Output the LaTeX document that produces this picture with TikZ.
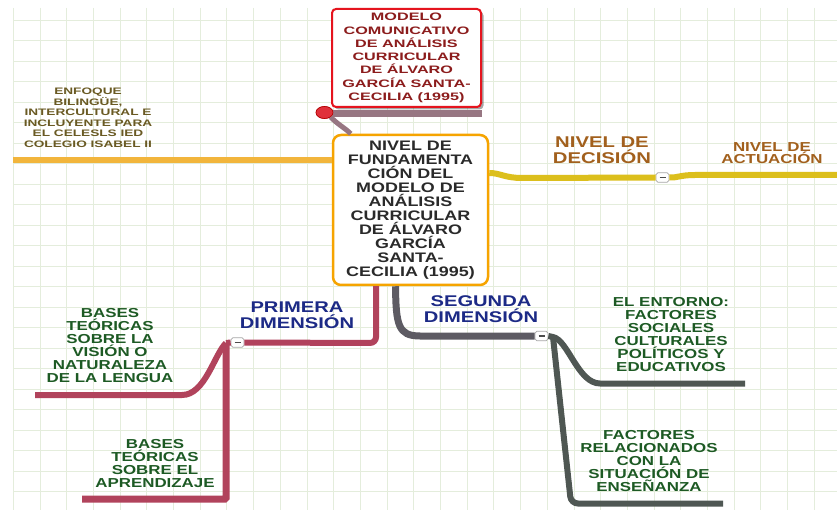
\documentclass[tikz,border=0pt]{standalone}
\usepackage{fontspec}
\setmainfont{Liberation Sans}
\newfontfamily\wideA[FakeStretch=1.3]{Liberation Sans}
\newfontfamily\wideB[FakeStretch=1.5]{Liberation Sans}
\newfontfamily\wideC[FakeStretch=1.45]{Liberation Sans}
\usetikzlibrary{shadows,shapes.geometric}

\definecolor{gridc}{HTML}{E4EDDC}
\definecolor{redB}{HTML}{E5141E}
\definecolor{redT}{HTML}{8C1C1C}
\definecolor{orangeB}{HTML}{F6A400}
\definecolor{coreT}{HTML}{2A2A2A}
\definecolor{orangeL}{HTML}{F2B53C}
\definecolor{oliveT}{HTML}{6A5A23}
\definecolor{yellowL}{HTML}{DCBF1C}
\definecolor{brownT}{HTML}{A2601D}
\definecolor{crimL}{HTML}{B1435C}
\definecolor{navyT}{HTML}{1C2A86}
\definecolor{grayL}{HTML}{5D5B63}
\definecolor{slateL}{HTML}{4F5753}
\definecolor{greenT}{HTML}{1D5A24}
\definecolor{mauveL}{HTML}{977682}
\definecolor{dotC}{HTML}{E0303A}

\tikzset{
  gridline/.style={draw=gridc, line width=0.9pt},
  lbl/.style={align=center, inner sep=0pt},
  greentxt/.style={lbl, text=greenT, font=\wideA\bfseries\fontsize{13}{13}\selectfont},
  dimtxt/.style={lbl, text=navyT, font=\wideA\bfseries\fontsize{15.5}{15.8}\selectfont},
  leveltxt/.style={lbl, text=brownT},
  toggle/.style={draw=black!35, fill=white, rounded corners=1.8pt, line width=0.7pt,
    minimum width=13pt, minimum height=9.5pt, inner sep=0pt,
    path picture={\draw[line width=1.3pt, black!70]
      ([xshift=-3pt]path picture bounding box.center) --
      ([xshift=3pt]path picture bounding box.center);}},
  branch/.style={line width=6pt, line cap=butt},
}

\begin{document}
\begin{tikzpicture}[x=1pt,y=-1pt]
\useasboundingbox (0,0) rectangle (837,510);
\fill[white] (0,0) rectangle (837,510);

% squared paper
\foreach \k in {0,...,30} {\draw[gridline] ({13.3+26.7*\k},8) -- ({13.3+26.7*\k},510);}
\foreach \k in {0,...,23} {\draw[gridline] (13,{20+20.5*\k}) -- (837,{20+20.5*\k});}

% main topics
\node[draw=redB, line width=2pt, rounded corners=4pt, fill=white,
      minimum width=149pt, minimum height=98pt, inner sep=0pt,
      drop shadow={shadow xshift=2.5pt, shadow yshift=-2.5pt, opacity=0.35, fill=black},
      text=redT, align=center, font=\wideB\bfseries\fontsize{10.8}{13.3}\selectfont]
  (topbox) at (406.5,58)
  {MODELO\\COMUNICATIVO\\DE ANÁLISIS\\CURRICULAR\\DE ÁLVARO\\GARCÍA SANTA-\\CECILIA (1995)};

\node[draw=orangeB, line width=2.5pt, rounded corners=8pt, fill=white,
      minimum width=155pt, minimum height=150pt, inner sep=0pt,
      text=coreT, align=center, font=\wideA\bfseries\fontsize{13.8}{14}\selectfont]
  (core) at (410.5,210)
  {NIVEL DE\\FUNDAMENTA\\CIÓN DEL\\MODELO DE\\ANÁLISIS\\CURRICULAR\\DE ÁLVARO\\GARCÍA\\SANTA-\\CECILIA (1995)};

% collapse toggles
\node[toggle] (tgDec) at (662.5,177.5) {};
\node[toggle] (tgPrim) at (237.5,342.5) {};
\node[toggle] (tgSeg) at (541.5,336) {};

% free ends and junctions
\coordinate (leftEnd) at (13,160);
\coordinate (rightEnd) at (837,175);
\coordinate (pj) at (226,343);
\coordinate (lenEnd) at (35,395);
\coordinate (aprEnd) at (82,499);
\coordinate (sj) at (553,337);
\coordinate (entEnd) at (745,383.5);
\coordinate (ensEnd) at (723,503.5);

% connectors
\begin{scope}[on background layer/.try]
\end{scope}
\draw[orangeL, line width=6.5pt] (leftEnd) -- (leftEnd -| core.west);

\draw[yellowL, branch] ([yshift=37pt]core.east) .. controls (500,173) and (505,178) .. (522,178) -- (tgDec.west);
\draw[yellowL, branch] (tgDec.east) .. controls (677,178) and (680,175) .. (695,175) -- (rightEnd);

\draw[crimL, branch, rounded corners=6pt] ([xshift=-34.5pt]core.south) -- (376,343) -- (tgPrim.east);
\draw[crimL, branch, line join=round] (tgPrim.west) -- (pj);
\draw[crimL, branch] (pj) .. controls (214,355) and (205,395) .. (182,395) -- (lenEnd);
\draw[crimL, line width=7pt, rounded corners=1pt] (pj) -- (226,499) -- (aprEnd);

\draw[grayL, line width=7pt] ([xshift=-15pt]core.south) .. controls (396,325) and (398,336) .. (420,336) -- (tgSeg.west);
\draw[slateL, branch] (tgSeg.east) -- (sj) .. controls (568,340) and (578,383.5) .. (600,383.5) -- (entEnd);
\draw[slateL, branch, rounded corners=7pt] (sj) -- (571,503.5) -- (ensEnd);

% title link
\node[ellipse, fill=dotC, draw=red!70!black, line width=0.6pt,
      minimum width=17pt, minimum height=12pt, inner sep=0pt] (dot) at (324.5,112.5) {};
\begin{scope}[on background layer/.try]\end{scope}
\draw[mauveL, line width=7pt] (dot.east |- 0,113.5) -- (topbox.east |- 0,113.5);
\draw[mauveL, line width=5pt] (dot.south east) .. controls (337,124) and (345,128) .. ([xshift=19pt]core.north west);
\node[ellipse, fill=dotC, draw=red!70!black, line width=0.6pt,
      minimum width=17pt, minimum height=12pt, inner sep=0pt] at (dot) {};

% labels on the branches
\node[lbl, text=oliveT, font=\wideC\bfseries\fontsize{9.4}{10.5}\selectfont] (enfoque) at (88,118)
  {ENFOQUE\\BILINGÜE,\\INTERCULTURAL E\\INCLUYENTE PARA\\EL CELESLS IED\\COLEGIO ISABEL II};

\node[leveltxt, font=\wideA\bfseries\fontsize{15.6}{16}\selectfont] (decision) at (602,150.5)
  {NIVEL DE\\DECISIÓN};
\node[leveltxt, font=\wideA\bfseries\fontsize{13}{12.5}\selectfont] (actuacion) at (772,153)
  {NIVEL DE\\ACTUACIÓN};

\node[dimtxt] (primera) at (297,315) {PRIMERA\\DIMENSIÓN};
\node[dimtxt] (segunda) at (481,309) {SEGUNDA\\DIMENSIÓN};

\node[greentxt] (lengua) at (110,345.5)
  {BASES\\TEÓRICAS\\SOBRE LA\\VISIÓN O\\NATURALEZA\\DE LA LENGUA};
\node[greentxt] (aprendizaje) at (155,463.5)
  {BASES\\TEÓRICAS\\SOBRE EL\\APRENDIZAJE};
\node[greentxt] (entorno) at (671,335)
  {EL ENTORNO:\\FACTORES\\SOCIALES\\CULTURALES\\POLÍTICOS Y\\EDUCATIVOS};
\node[greentxt] (ensenanza) at (649,461.5)
  {FACTORES\\RELACIONADOS\\CON LA\\SITUACIÓN DE\\ENSEÑANZA};
\end{tikzpicture}
\end{document}
